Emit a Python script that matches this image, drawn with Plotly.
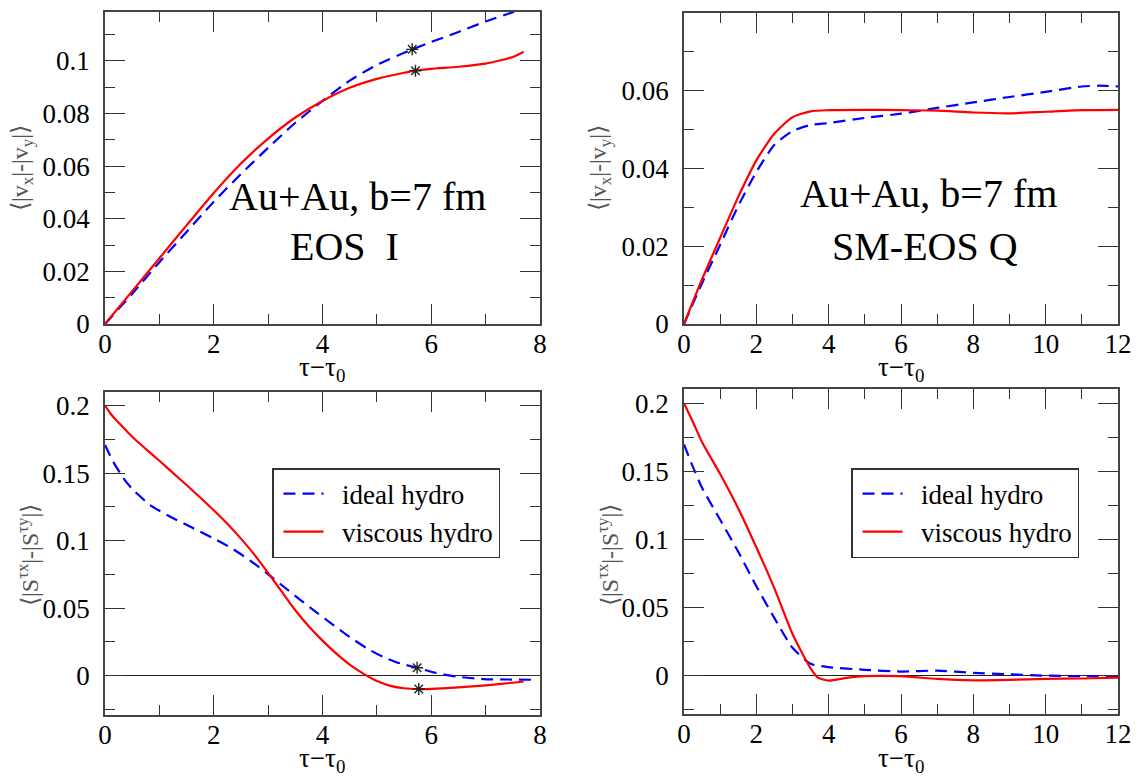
import plotly.graph_objects as go

W, H = 1146, 783
SERIF = "Liberation Serif"
BLUE = "#0000ff"
RED = "#ff0000"
AXIS = "#444444"

# ---- EOS I : momentum anisotropy <|vx|-|vy|> ----
eos1_ideal_t = [0, 0.5, 1, 1.5, 2, 2.5, 3, 3.5, 4, 4.5, 5, 5.65, 6, 6.5, 7, 7.5, 7.7]
eos1_ideal_v = [0, 0.0115, 0.0235, 0.035, 0.0465, 0.057, 0.067, 0.0765, 0.0848,
                0.0925, 0.0985, 0.1044, 0.1072, 0.111, 0.115, 0.1185, 0.1198]
eos1_visc_t = [0, 0.5, 1, 1.5, 2, 2.5, 3, 3.5, 4, 4.5, 5, 5.5, 5.71, 6, 6.5, 7, 7.5, 7.7]
eos1_visc_v = [0, 0.0125, 0.025, 0.0375, 0.0498, 0.061, 0.0705, 0.0785, 0.0848,
               0.0898, 0.0932, 0.0955, 0.0963, 0.097, 0.0978, 0.099, 0.1015, 0.1035]

# ---- SM-EOS Q : momentum anisotropy ----
eosq_ideal_t = [0, 0.5, 1, 1.5, 2, 2.5, 3, 3.5, 4, 5, 6, 6.5, 7, 8, 9, 10, 11, 11.5, 12]
eosq_ideal_v = [0, 0.0105, 0.0204, 0.0304, 0.0391, 0.0461, 0.0496, 0.0512, 0.0517,
                0.053, 0.0541, 0.0548, 0.0556, 0.057, 0.0584, 0.0597, 0.0611, 0.0613, 0.0611]
eosq_visc_t = [0, 0.5, 1, 1.5, 2, 2.5, 3, 3.5, 4, 5, 6, 7, 8, 9, 10, 11, 12]
eosq_visc_v = [0, 0.0115, 0.0222, 0.0327, 0.0421, 0.049, 0.0532, 0.0547, 0.055,
               0.0551, 0.055, 0.0549, 0.0544, 0.0542, 0.0546, 0.055, 0.0551]

# ---- EOS I : stress anisotropy <|S^tx|-|S^ty|> ----
eos1_ideal_st = [0, 0.15, 0.34, 0.52, 0.83, 1.14, 1.45, 1.75, 2.05, 2.36, 2.67, 2.98,
                 3.3, 3.59, 3.9, 4.2, 4.5, 4.82, 5.12, 5.43, 5.74, 6.04, 6.47, 6.96, 7.4, 7.9]
eos1_ideal_s = [0.1709, 0.1585, 0.1462, 0.1375, 0.1264, 0.119, 0.1127, 0.1067, 0.1006,
                0.0937, 0.0852, 0.0758, 0.0655, 0.0562, 0.0466, 0.0375, 0.0287, 0.0202,
                0.0138, 0.0091, 0.0059, 0.0025, -0.0007, -0.0025, -0.0028, -0.003]
eos1_visc_st = [0, 0.1, 0.2, 0.35, 0.52, 0.75, 1, 1.25, 1.5, 1.75, 2, 2.25, 2.5, 2.75,
                3, 3.25, 3.5, 3.75, 4, 4.25, 4.5, 4.75, 5, 5.25, 5.5, 5.77, 6, 6.5, 7,
                7.5, 7.7]
eos1_visc_s = [0.2, 0.1942, 0.1895, 0.1832, 0.1762, 0.168, 0.1592, 0.1502, 0.1412, 0.132,
               0.1225, 0.1125, 0.1015, 0.0895, 0.0762, 0.0622, 0.0485, 0.0365, 0.026,
               0.0165, 0.0082, 0.0015, -0.004, -0.0075, -0.0093, -0.0099, -0.0098,
               -0.0087, -0.0071, -0.0052, -0.0043]

# ---- SM-EOS Q : stress anisotropy ----
eosq_ideal_st = [0, 0.25, 0.5, 1, 1.5, 2, 2.5, 3, 3.5, 4, 5, 6, 7, 8, 9, 10, 11, 12]
eosq_ideal_s = [0.1697, 0.153, 0.1378, 0.1143, 0.0908, 0.0655, 0.042, 0.0202, 0.0084,
                0.006, 0.004, 0.0027, 0.0034, 0.0017, 0.0007, -0.0003, -0.0007, -0.0007]
eosq_visc_st = [0, 0.25, 0.5, 1, 1.5, 2, 2.5, 3, 3.5, 3.7, 4, 4.5, 5, 6, 7, 8, 9, 10, 11, 12]
eosq_visc_s = [0.2, 0.186, 0.1714, 0.148, 0.1227, 0.0941, 0.0639, 0.0303, 0.005, -0.0017,
               -0.004, -0.002, -0.0007, -0.0007, -0.0027, -0.0037, -0.0034, -0.0027,
               -0.0024, -0.0017]

# freeze-out markers (asterisks) on the EOS I curves
marks_v_t = [5.65, 5.71]
marks_v = [0.1044, 0.0963]
marks_s_t = [5.74, 5.77]
marks_s = [0.0059, -0.0099]

# tick labels
tau_ticks_8 = [0, 2, 4, 6, 8]
tau_ticks_12 = [0, 2, 4, 6, 8, 10, 12]
v_ticks = [0, 0.02, 0.04, 0.06, 0.08, 0.1]
v_ticklabels = ["0", "0.02", "0.04", "0.06", "0.08", "0.1"]
s_ticks = [0, 0.05, 0.1, 0.15, 0.2]
s_ticklabels = ["0", "0.05", "0.1", "0.15", "0.2"]

series_names = ["ideal hydro", "viscous hydro"]
title_au = "Au+Au, b=7 fm"
title_eos1 = "EOS\u00a0\u00a0I"
title_eosq = "SM-EOS Q"


def px_x(p):
    return p / W


def px_y(p):
    return 1 - p / H


fig = go.Figure()


def add_pair(xa, ya, t_id, v_id, t_vs, v_vs, legend=None):
    show = legend is not None
    fig.add_trace(go.Scatter(
        x=t_id, y=v_id, mode="lines", name="\u2002" + series_names[0],
        line=dict(color=BLUE, width=2.2, dash="12px,7px", shape="spline", smoothing=0.6),
        xaxis=xa, yaxis=ya, showlegend=show, legend=legend or "legend"))
    fig.add_trace(go.Scatter(
        x=t_vs, y=v_vs, mode="lines", name="\u2002" + series_names[1],
        line=dict(color=RED, width=2.2, shape="spline", smoothing=0.6),
        xaxis=xa, yaxis=ya, showlegend=show, legend=legend or "legend"))


add_pair("x", "y", eos1_ideal_t, eos1_ideal_v, eos1_visc_t, eos1_visc_v)
add_pair("x2", "y2", eosq_ideal_t, eosq_ideal_v, eosq_visc_t, eosq_visc_v)
add_pair("x3", "y3", eos1_ideal_st, eos1_ideal_s, eos1_visc_st, eos1_visc_s, legend="legend")
add_pair("x4", "y4", eosq_ideal_st, eosq_ideal_s, eosq_visc_st, eosq_visc_s, legend="legend2")

asterisk = dict(symbol="asterisk", size=10, color="#222222",
                line=dict(color="#222222", width=1.4))
fig.add_trace(go.Scatter(x=marks_v_t, y=marks_v, mode="markers", marker=asterisk,
                         xaxis="x", yaxis="y", showlegend=False))
fig.add_trace(go.Scatter(x=marks_s_t, y=marks_s, mode="markers", marker=asterisk,
                         xaxis="x3", yaxis="y3", showlegend=False))

tick_font = dict(family=SERIF, size=27, color="black")


def axis(domain, rng, vals, texts, minor_dtick, anchor, zeroline=False, standoff=-5):
    return dict(
        domain=domain, range=rng, anchor=anchor,
        tickmode="array", tickvals=vals, ticktext=texts,
        ticks="inside", ticklen=20, tickwidth=1.2, tickcolor="#333333",
        minor=dict(dtick=minor_dtick, tick0=0, ticks="inside", ticklen=10,
                   tickwidth=1.2, tickcolor="#333333"),
        mirror="allticks", showline=True, linecolor=AXIS, linewidth=1.5,
        showgrid=False, zeroline=zeroline, zerolinecolor="#222222", zerolinewidth=1.2,
        tickfont=tick_font, ticklabelstandoff=standoff,
    )


dx_left = [px_x(105), px_x(540)]
dx_right = [px_x(684), px_x(1118)]
t8 = [str(v) for v in tau_ticks_8]
t12 = [str(v) for v in tau_ticks_12]

legend_style = dict(xanchor="left", yanchor="top", bordercolor="#333333", borderwidth=1.5,
                    bgcolor="white", font=dict(family=SERIF, size=27, color="black"),
                    itemwidth=40, indentation=5, y=px_y(468))

fig.update_layout(
    width=W, height=H, autosize=False,
    margin=dict(l=0, r=0, t=0, b=0, autoexpand=False),
    paper_bgcolor="white", plot_bgcolor="white",
    font=dict(family=SERIF, color="black"),
    xaxis=axis(dx_left, [0, 8], tau_ticks_8, t8, 1, "y"),
    yaxis=axis([px_y(324), px_y(12)], [0, 0.1186], v_ticks, v_ticklabels, 0.01, "x",
               standoff=8),
    xaxis2=axis(dx_right, [0, 12], tau_ticks_12, t12, 1, "y2"),
    yaxis2=axis([px_y(324), px_y(13)], [0, 0.08], v_ticks, v_ticklabels, 0.01, "x2",
                standoff=8),
    xaxis3=axis(dx_left, [0, 8], tau_ticks_8, t8, 1, "y3"),
    yaxis3=axis([px_y(715), px_y(392)], [-0.0291, 0.2101], s_ticks, s_ticklabels, 0.025,
                "x3", zeroline=True, standoff=8),
    xaxis4=axis(dx_right, [0, 12], tau_ticks_12, t12, 1, "y4"),
    yaxis4=axis([px_y(714), px_y(389)], [-0.0285, 0.2105], s_ticks, s_ticklabels, 0.025,
                "x4", zeroline=True, standoff=8),
    legend=dict(x=px_x(272), **legend_style),
    legend2=dict(x=px_x(851), **legend_style),
)

ann = []
big = dict(family=SERIF, size=40, color="black")
ann.append(dict(x=px_x(357), y=px_y(196), text=title_au, font=big))
ann.append(dict(x=px_x(344), y=px_y(247), text=title_eos1, font=big))
ann.append(dict(x=px_x(928), y=px_y(194), text=title_au, font=big))
ann.append(dict(x=px_x(925), y=px_y(247), text=title_eosq, font=big))

ytitle_font = dict(family=SERIF, size=24, color="#555555")
vtitle = "\u27e8|v<sub>x</sub>|-|v<sub>y</sub>|\u27e9"
stitle = "\u27e8|S<sup>\u03c4x</sup>|-|S<sup>\u03c4y</sup>|\u27e9"
ann.append(dict(x=px_x(22), y=px_y(168), text=vtitle, textangle=-90, font=ytitle_font))
ann.append(dict(x=px_x(600), y=px_y(168), text=vtitle, textangle=-90, font=ytitle_font))
ann.append(dict(x=px_x(28), y=px_y(555), text=stitle, textangle=-90, font=ytitle_font))
ann.append(dict(x=px_x(608), y=px_y(555), text=stitle, textangle=-90, font=ytitle_font))

for a in ann:
    a.update(yanchor="middle")

xtitle = "\u03c4\u2212\u03c4<sub>0</sub>"
xtitle_font = dict(family=SERIF, size=27, color="black")
for cx, top in [(322, 350), (901, 350), (322, 741), (901, 741)]:
    ann.append(dict(x=px_x(cx), y=px_y(top), text=xtitle, font=xtitle_font, yanchor="top"))

for a in ann:
    a.update(xref="paper", yref="paper", showarrow=False, xanchor="center")
fig.update_layout(annotations=ann)

# page body without default margin so the figure sits at the window origin
fig.write_html("out.html", config={"responsive": False},
               post_script="document.body.style.margin='0px';")
